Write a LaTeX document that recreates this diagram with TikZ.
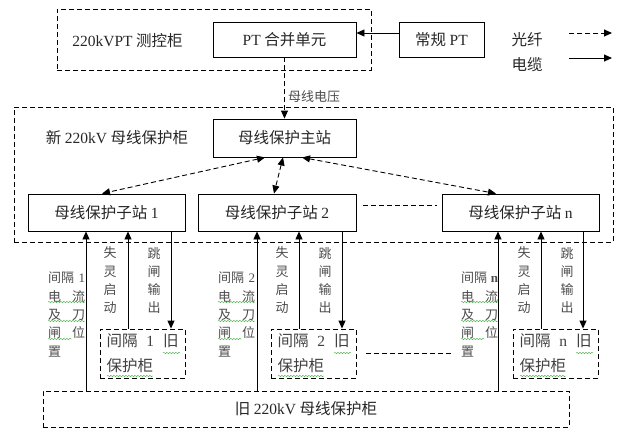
\documentclass[tikz,border=0pt]{standalone}
\usepackage{fontspec}
\setmainfont{Noto Sans CJK SC}
\newfontfamily\lat{Liberation Serif}
\usetikzlibrary{arrows.meta,decorations.pathmorphing}
\begin{document}
\begin{tikzpicture}[x=1pt,y=-1pt,
  >={Triangle[length=8pt,width=7pt]},
  box/.style={draw, line width=0.9pt, inner sep=0pt, text=black!85, font=\fontsize{15.5}{18}\selectfont},
  cab/.style={draw, line width=0.9pt, dash pattern=on 5pt off 3pt, inner sep=0pt},
  oldbox/.style={cab, text=black!75, text width=72pt, align=left, minimum width=85pt, minimum height=49pt, font=\fontsize{15.5}{25}\selectfont},
  fib/.style={line width=0.9pt, dash pattern=on 5pt off 3pt},
  cbl/.style={line width=0.9pt},
  lbl/.style={inner sep=0pt, text=black!85, font=\fontsize{15.5}{18}\selectfont},
  small/.style={inner sep=0pt, text=black!70, font=\fontsize{13}{18.3}\selectfont},
  col/.style={small, text width=37pt, align=left, anchor=west},
  vcol/.style={small, align=center},
  squig/.style={draw=green!55!black!70, line width=0.45pt, decorate, decoration={snake, segment length=3pt, amplitude=0.7pt}}
]
\useasboundingbox (0,0) rectangle (640,436);

% PT cabinet
\node[cab, minimum width=314pt, minimum height=61pt] (ptcab) at (214,39.5) {};
\node[lbl] (ptcabl) at (127.5,41) {{\lat 220kVPT} 测控柜};
\node[box, minimum width=143pt, minimum height=35pt] (ptmu) at (284.5,39.5) {{\lat PT} 合并单元};
\node[box, minimum width=85pt, minimum height=35pt] (cpt) at (441.5,39.5) {常规 {\lat PT}};
\draw[cbl,->] ([yshift=6.5pt]cpt.west) -- ([yshift=6.5pt]ptmu.east);

% legend
\node[lbl] (gx) at (527,40) {光纤};
\node[lbl] (dl) at (527,65) {电缆};
\coordinate (g1) at (569,33);
\coordinate (g2) at (612,33);
\coordinate (d1) at (569,58);
\coordinate (d2) at (612,58);
\draw[fib,->] (g1) -- (g2);
\draw[cbl,->] (d1) -- (d2);

% new cabinet
\node[cab, minimum width=599pt, minimum height=135pt] (newcab) at (313.5,174.5) {};
\node[lbl] (newl) at (117,138) {新 {\lat 220kV} 母线保护柜};
\node[box, minimum width=143pt, minimum height=38pt] (main) at (284.5,138) {母线保护主站};
\draw[fib,->] (ptmu.south) -- (main.north);
\node[small, anchor=west] (mxdy) at (288,97) {母线电压};

\node[box, minimum width=157pt, minimum height=37pt] (sub1) at (106.5,212.5) {母线保护子站 {\lat 1}};
\node[box, minimum width=158pt, minimum height=37pt] (sub2) at (277,212.5) {母线保护子站 {\lat 2}};
\node[box, minimum width=157pt, minimum height=37pt] (subn) at (520.5,212.5) {母线保护子站 {\lat n}};

\draw[fib,<->] ([xshift=-19.5pt]main.south) -- ([xshift=-4.5pt]sub1.north);
\draw[fib,<->] ([xshift=-1.5pt]main.south) -- ([xshift=-3pt]sub2.north);
\draw[fib,<->] ([xshift=17.5pt]main.south) -- ([xshift=-24.5pt]subn.north);
\draw[fib] ([xshift=7pt,yshift=7.5pt]sub2.east) -- ([xshift=-5pt,yshift=7.5pt]subn.west);

% old cabinets
\node[oldbox] (box1) at (142.5,353.5) {\makebox[72pt]{间隔\hfill{\lat 1}\hfill 旧}\\保护柜};
\node[oldbox] (box2) at (313.5,353.5) {\makebox[72pt]{间隔\hfill{\lat 2}\hfill 旧}\\保护柜};
\node[oldbox] (boxn) at (555.5,353.5) {\makebox[72pt]{间隔\hfill{\lat n}\hfill 旧}\\保护柜};
\draw[fib] ([xshift=10pt]box2.east) -- ([xshift=-60pt]boxn.west);

\node[cab, minimum width=526pt, minimum height=36pt, text=black!85, font=\fontsize{15.5}{18}\selectfont] (oldcab) at (306,409) {旧 {\lat 220kV} 母线保护柜};

% signal lines sub1
\draw[cbl,->] ([xshift=-20.5pt]sub1.south |- oldcab.north) -- ([xshift=-20.5pt]sub1.south);
\draw[cbl,->] ([xshift=21.5pt]sub1.south |- box1.north) -- ([xshift=21.5pt]sub1.south);
\draw[cbl,->] ([xshift=64.5pt]sub1.south) -- ([xshift=64.5pt]sub1.south |- box1.north);
% sub2
\draw[cbl,->] ([xshift=-20pt]sub2.south |- oldcab.north) -- ([xshift=-20pt]sub2.south);
\draw[cbl,->] ([xshift=22pt]sub2.south |- box2.north) -- ([xshift=22pt]sub2.south);
\draw[cbl,->] ([xshift=65pt]sub2.south) -- ([xshift=65pt]sub2.south |- box2.north);
% subn
\draw[cbl,->] ([xshift=-22.5pt]subn.south |- oldcab.north) -- ([xshift=-22.5pt]subn.south);
\draw[cbl,->] ([xshift=20.5pt]subn.south |- boxn.north) -- ([xshift=20.5pt]subn.south);
\draw[cbl,->] ([xshift=62.5pt]subn.south) -- ([xshift=62.5pt]subn.south |- boxn.north);

% labels
\node[col] (c1) at (48,314.5) {\makebox[37pt]{间隔\hfill{\lat 1}}\\\makebox[37pt]{电\hfill 流}\\\makebox[37pt]{及\hfill 刀}\\\makebox[37pt]{闸\hfill 位}\\置};
\node[col] (c2) at (218,314.5) {\makebox[37pt]{间隔\hfill{\lat 2}}\\\makebox[37pt]{电\hfill 流}\\\makebox[37pt]{及\hfill 刀}\\\makebox[37pt]{闸\hfill 位}\\置};
\node[col] (cn) at (461,314.5) {\makebox[37pt]{间隔\hfill{\lat\bfseries n}}\\\makebox[37pt]{电\hfill 流}\\\makebox[37pt]{及\hfill 刀}\\\makebox[37pt]{闸\hfill 位}\\置};

\node[vcol] (s1) at (110,280.5) {失\\灵\\启\\动};
\node[vcol] (t1) at (154,280.5) {跳\\闸\\输\\出};
\node[vcol] (s2) at (282,280.5) {失\\灵\\启\\动};
\node[vcol] (t2) at (325,280.5) {跳\\闸\\输\\出};
\node[vcol] (sn) at (524,280.5) {失\\灵\\启\\动};
\node[vcol] (tn) at (567,280.5) {跳\\闸\\输\\出};

% spell-check underlines
\foreach \c in {c1,c2,cn}{
  \begin{scope}[shift={(\c.west)}]
    \path[squig] (0,-12.5) -- (37,-12.5);
    \path[squig] (0,6.5) -- (37,6.5);
    \path[squig] (0,24.5) -- (24,24.5);
  \end{scope}
}
\foreach \b in {box1,box2,boxn}{
  \begin{scope}[shift={(\b.center)}]
    \path[squig] (20.5,-0.5) -- (37.5,-0.5);
    \path[squig] (-35.5,22.5) -- (10.5,22.5);
  \end{scope}
}
\end{tikzpicture}
\end{document}
